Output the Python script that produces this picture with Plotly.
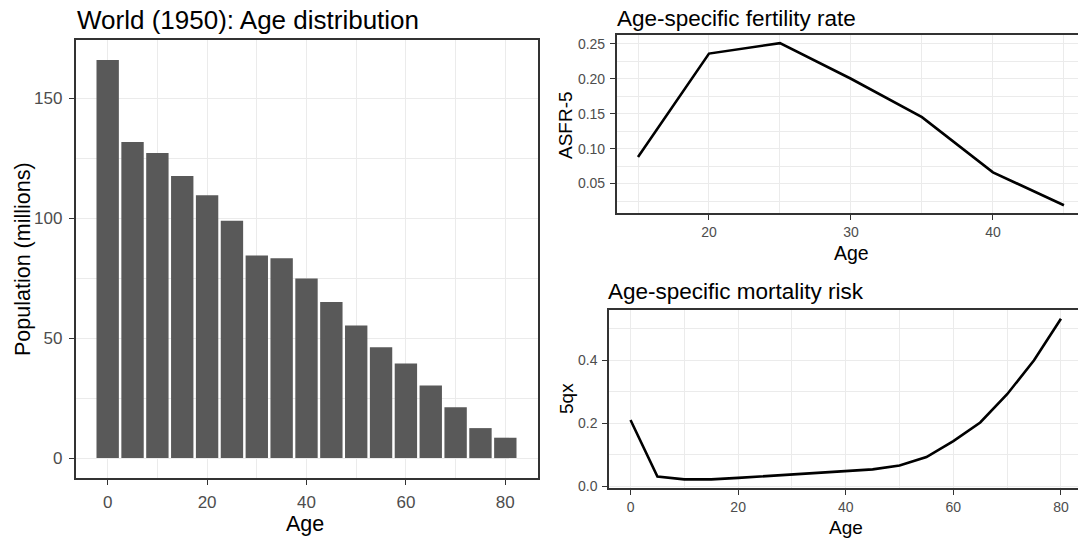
import plotly.graph_objects as go

W, H = 1078, 539

# ---- data ----
pop_age = [0, 5, 10, 15, 20, 25, 30, 35, 40, 45, 50, 55, 60, 65, 70, 75, 80]
pop_millions = [166.0, 131.8, 127.2, 117.6, 109.6, 98.9, 84.5, 83.3, 74.9, 65.1,
                55.3, 46.2, 39.4, 30.3, 21.2, 12.5, 8.5]

asfr_age = [15, 20, 25, 30, 35, 40, 45]
asfr = [0.088, 0.236, 0.251, 0.200, 0.145, 0.066, 0.019]

qx_age = [0, 5, 10, 15, 20, 25, 30, 35, 40, 45, 50, 55, 60, 65, 70, 75, 80]
qx = [0.21, 0.030, 0.021, 0.021, 0.026, 0.031, 0.036, 0.042, 0.048, 0.053,
      0.065, 0.092, 0.143, 0.202, 0.292, 0.400, 0.532]

titles = ["World (1950): Age distribution", "Age-specific fertility rate",
          "Age-specific mortality risk"]

FONT = "Liberation Sans, Arial, sans-serif"
GRID = "#EBEBEB"
BORDER = "#333333"
TICKC = "#4D4D4D"


def px(x):
    return x / W


def py(y):
    return 1 - y / H


fig = go.Figure()
fig.add_trace(go.Bar(x=pop_age, y=pop_millions, width=4.5, marker_color="#595959",
                     marker_line_width=0, xaxis="x", yaxis="y", showlegend=False))
fig.add_trace(go.Scatter(x=asfr_age, y=asfr, mode="lines", line=dict(color="black", width=2.6),
                         xaxis="x2", yaxis="y2", showlegend=False))
fig.add_trace(go.Scatter(x=qx_age, y=qx, mode="lines", line=dict(color="black", width=2.6),
                         xaxis="x3", yaxis="y3", showlegend=False))


def ax(domain, rng, dtick, minor_dtick, tick0, anchor, fs, fmt=None, mirror=True, standoff=None):
    d = dict(domain=domain, range=rng, dtick=dtick, tick0=tick0, anchor=anchor,
             showgrid=True, gridcolor=GRID, gridwidth=1.1,
             minor=dict(dtick=minor_dtick, tick0=tick0, showgrid=True, gridcolor=GRID,
                        gridwidth=0.6, ticks=""),
             showline=True, linecolor=BORDER, linewidth=1.5, mirror=mirror,
             ticks="outside", ticklen=5, tickcolor=BORDER, tickwidth=1.1,
             tickfont=dict(family=FONT, size=fs, color=TICKC),
             zeroline=False, automargin=False, fixedrange=True)
    if fmt:
        d["tickformat"] = fmt
    if standoff is not None:
        d["ticklabelstandoff"] = standoff
    return d


layout = dict(
    width=W, height=H, margin=dict(l=0, r=0, t=0, b=0),
    paper_bgcolor="white", plot_bgcolor="white",
    xaxis=ax([px(75.5), px(537.5)], [-6.475, 86.475], 20, 10, 0, "y", 17, standoff=3),
    yaxis=ax([py(478), py(40)], [-8.3, 174.3], 50, 25, 0, "x", 17, standoff=3),
    xaxis2=ax([px(616.7), 1.0], [13.5, 45.99], 10, 5, 0, "y2", 14, mirror=True, standoff=0),
    yaxis2=ax([py(213.3), py(35)], [0.0074, 0.2626], 0.05, 0.025, 0, "x2", 14, fmt=".2f",
              mirror=False, standoff=2),
    xaxis3=ax([px(609), 1.0], [-4, 83.17], 20, 10, 0, "y3", 14, mirror=True, standoff=0),
    yaxis3=ax([py(488.4), py(310)], [-0.0076, 0.56], 0.2, 0.1, 0, "x3", 14, fmt=".1f",
              mirror=False, standoff=2),
)
fig.update_layout(**layout)


def ann(text, x, y, size, angle=0, xanchor="center", yanchor="middle"):
    fig.add_annotation(text=text, x=px(x), y=py(y), xref="paper", yref="paper",
                       showarrow=False, textangle=angle, xanchor=xanchor, yanchor=yanchor,
                       font=dict(family=FONT, size=size, color="black"))


ann(titles[0], 75, 20, 26, xanchor="left")
ann(titles[1], 615, 18, 22.5, xanchor="left")
ann(titles[2], 606, 291, 22.5, xanchor="left")
ann("Population (millions)", 23, 259, 21.5, angle=-90)
ann("Age", 305, 524, 21.5)
ann("ASFR-5", 566, 125, 19, angle=-90)
ann("Age", 851, 253, 19.5)
ann("5qx", 566, 399, 19, angle=-90)
ann("Age", 846, 527, 19)

fig.write_html("out.html", config=dict(displayModeBar=False))
